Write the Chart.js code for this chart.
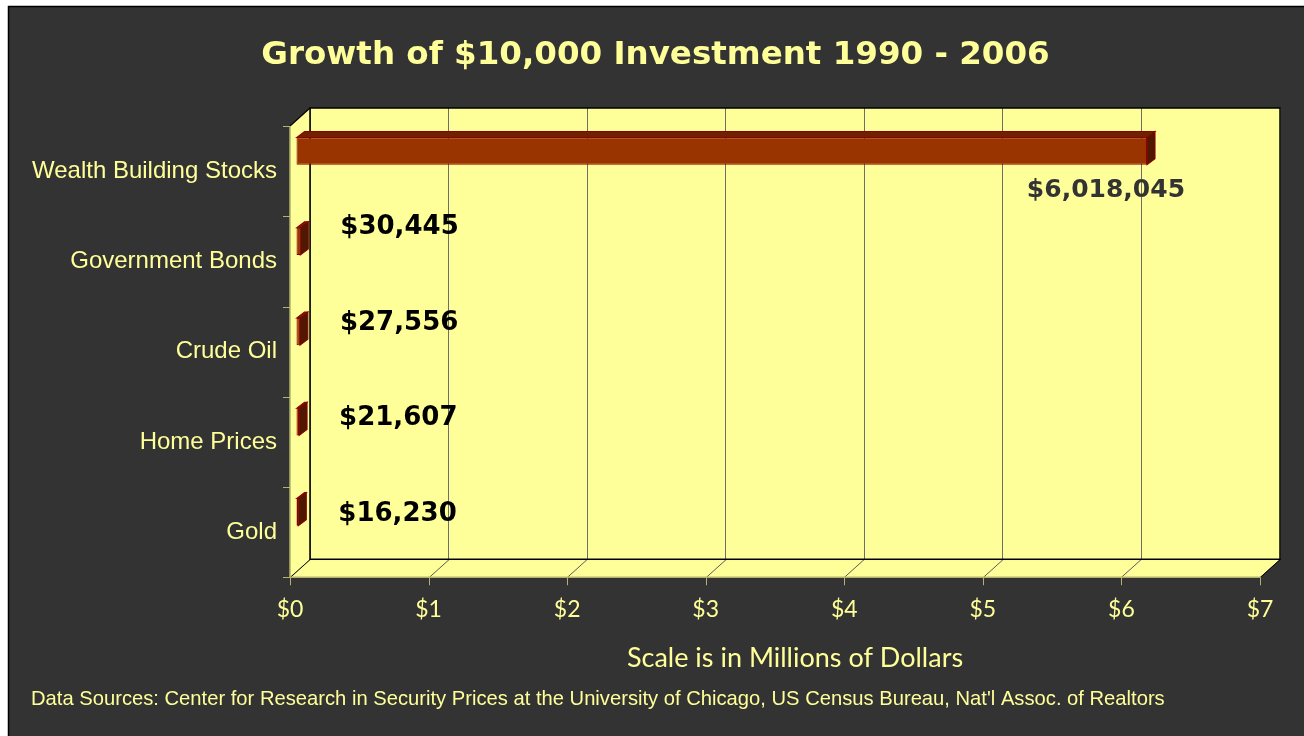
<!DOCTYPE html>
<html><head><meta charset="utf-8">
<script src="https://cdn.jsdelivr.net/npm/chart.js@4.4.1/dist/chart.umd.min.js"></script>
<style>html,body{margin:0;padding:0;background:#fff;overflow:hidden}#wrap{position:absolute;left:0;top:0;width:1304px;height:736px}</style>
</head><body><div id="wrap"><canvas id="c" width="1304" height="736"></canvas></div>
<script>
const categories = ['Wealth Building Stocks', 'Government Bonds', 'Crude Oil', 'Home Prices', 'Gold'];
const finalValuesUSD = [6018045, 30445, 27556, 21607, 16230];
const valuesMillions = finalValuesUSD.map(v => v / 1e6);
const xTickLabels = ['$0', '$1', '$2', '$3', '$4', '$5', '$6', '$7'];
const chartTitle = 'Growth of $10,000 Investment 1990 - 2006';
const xAxisTitle = 'Scale is in Millions of Dollars';
const footnote = "Data Sources: Center for Research in Security Prices at the University of Chicago, US Census Bureau, Nat'l Assoc. of Realtors";

const YELLOW = '#FFFF99';
const DEP_X = 20, DEP_Y = 18;      // wall depth (3D offset)
const BAR_K = 1.0205, BAR_X0 = 296, BAR_DY = -2; // bar perspective projection
const FACE_DX = 8, FACE_DY = -6;   // bar depth

const threeD = {
  id: 'threeD',
  beforeDraw(chart) {
    const {ctx, chartArea: a} = chart;
    ctx.save();
    ctx.fillStyle = '#ffffff';
    ctx.fillRect(0, 0, chart.width, chart.height);
    ctx.fillStyle = '#333333';
    ctx.fillRect(8, 6, chart.width - 8, chart.height - 6);
    ctx.strokeStyle = '#000';
    ctx.lineWidth = 1.5;
    ctx.beginPath(); ctx.moveTo(8.5, chart.height); ctx.lineTo(8.5, 6.5); ctx.lineTo(chart.width, 6.5); ctx.stroke();
    ctx.fillStyle = YELLOW;
    ctx.fillRect(a.left, a.top, a.width, a.height);
    ctx.beginPath();
    ctx.moveTo(a.left - DEP_X, a.top + DEP_Y); ctx.lineTo(a.left, a.top);
    ctx.lineTo(a.left, a.bottom); ctx.lineTo(a.left - DEP_X, a.bottom + DEP_Y); ctx.closePath(); ctx.fill();
    ctx.beginPath();
    ctx.moveTo(a.left, a.bottom); ctx.lineTo(a.right, a.bottom);
    ctx.lineTo(a.right - DEP_X, a.bottom + DEP_Y); ctx.lineTo(a.left - DEP_X, a.bottom + DEP_Y); ctx.closePath(); ctx.fill();
    ctx.restore();
  },
  beforeDatasetsDraw(chart) {
    const {ctx, chartArea: a, scales: {x: xs, y: ys}} = chart;
    ctx.save();
    ctx.lineWidth = 1;
    // floor diagonals
    xTickLabels.forEach((_, v) => {
      const px = Math.round(xs.getPixelForValue(v)) + 0.5;
      ctx.strokeStyle = (v === 0 || v === xTickLabels.length - 1) ? '#000' : '#5a5a5a';
      ctx.beginPath(); ctx.moveTo(px, a.bottom); ctx.lineTo(px - DEP_X, a.bottom + DEP_Y); ctx.stroke();
    });
    // back wall border
    ctx.strokeStyle = '#000'; ctx.lineWidth = 1.5;
    ctx.strokeRect(a.left, a.top, a.width, a.height);
    ctx.lineWidth = 1.2;
    ctx.beginPath(); ctx.moveTo(a.left, a.top); ctx.lineTo(a.left - DEP_X, a.top + DEP_Y); ctx.stroke();
    // front edges
    ctx.strokeStyle = '#b3b36b'; ctx.lineWidth = 1.5;
    ctx.beginPath();
    ctx.moveTo(a.left - DEP_X, a.top + DEP_Y); ctx.lineTo(a.left - DEP_X, a.bottom + DEP_Y);
    ctx.lineTo(a.right - DEP_X, a.bottom + DEP_Y); ctx.stroke();
    // tick marks
    ctx.lineWidth = 1;
    for (let i = 0; i <= categories.length; i++) {
      const py = Math.round(ys.getPixelForValue(i - 0.5) + DEP_Y) + 0.5;
      ctx.beginPath(); ctx.moveTo(a.left - DEP_X, py); ctx.lineTo(a.left - DEP_X - 7, py); ctx.stroke();
    }
    xTickLabels.forEach((_, v) => {
      const px = Math.round(xs.getPixelForValue(v) - DEP_X) + 0.5;
      ctx.beginPath(); ctx.moveTo(px, a.bottom + DEP_Y); ctx.lineTo(px, a.bottom + DEP_Y + 8); ctx.stroke();
    });
    ctx.restore();
    // projection for bars (they sit in the middle depth of the 3D box)
    ctx.save();
    ctx.transform(BAR_K, 0, 0, 1, BAR_X0 - BAR_K * a.left, BAR_DY);
  },
  afterDatasetsDraw(chart) {
    const {ctx, chartArea: a} = chart;
    const meta = chart.getDatasetMeta(0);
    meta.data.forEach(el => {
      const {x, y, base, height} = el.getProps(['x', 'y', 'base', 'height'], true);
      const top = y - height / 2, bot = y + height / 2;
      const dx = FACE_DX / BAR_K;
      ctx.lineWidth = 1; ctx.strokeStyle = '#8b0000';
      ctx.fillStyle = '#6e2200';
      ctx.beginPath();
      ctx.moveTo(base, top); ctx.lineTo(base + dx, top + FACE_DY); ctx.lineTo(x + dx, top + FACE_DY); ctx.lineTo(x, top); ctx.closePath();
      ctx.fill(); ctx.stroke();
      ctx.fillStyle = '#4f1800';
      ctx.beginPath();
      ctx.moveTo(x, top); ctx.lineTo(x + dx, top + FACE_DY); ctx.lineTo(x + dx, bot + FACE_DY); ctx.lineTo(x, bot); ctx.closePath();
      ctx.fill(); ctx.stroke();
    });
    ctx.restore();
    // data labels
    const midY = (a.top + a.bottom) / 2 + 36;
    ctx.save();
    ctx.textBaseline = 'middle';
    meta.data.forEach((el, i) => {
      const {x, y} = el.getProps(['x', 'y'], true);
      const endX = BAR_X0 + BAR_K * (x - a.left);
      const cy = y + BAR_DY;
      const txt = '$' + finalValuesUSD[i].toLocaleString('en-US');
      if (valuesMillions[i] > 1) {
        ctx.font = 'bold 25px "DejaVu Sans"';
        ctx.fillStyle = '#333333';
        ctx.textAlign = 'right';
        ctx.fillText(txt, endX + 38, cy + 39);
      } else {
        ctx.font = 'bold 26px "DejaVu Sans"';
        ctx.fillStyle = '#000000';
        ctx.textAlign = 'left';
        ctx.fillText(txt, endX + 40, cy - 6.5 + (cy - midY) * 0.062);
      }
    });
    ctx.restore();
  }
};

new Chart(document.getElementById('c'), {
  type: 'bar',
  data: {
    labels: categories,
    datasets: [{
      data: valuesMillions,
      backgroundColor: '#993300',
      borderColor: '#8b0000',
      borderWidth: 1,
      borderSkipped: false,
      categoryPercentage: 1,
      barPercentage: 0.3,
      clip: false
    }]
  },
  options: {
    responsive: false,
    animation: false,
    devicePixelRatio: 1,
    indexAxis: 'y',
    layout: {padding: {left: 31, right: 24, top: 0, bottom: 0}},
    plugins: {
      legend: {display: false},
      tooltip: {enabled: false},
      title: {
        display: true, text: chartTitle, color: YELLOW,
        font: {family: 'DejaVu Sans', weight: 'bold', size: 32.5, lineHeight: 1.2},
        padding: {top: 36, bottom: 33}
      },
      subtitle: {
        display: true, position: 'bottom', align: 'start', text: footnote, color: YELLOW,
        font: {family: 'Liberation Sans', size: 20.2, lineHeight: 1.2},
        padding: {top: 8, bottom: 24.4}
      }
    },
    scales: {
      x: {
        type: 'linear', min: 0, max: 7, position: 'bottom',
        ticks: {
          stepSize: 1, color: YELLOW, font: {family: 'Lato', size: 23},
          padding: 2, labelOffset: -DEP_X,
          callback: (v, i) => xTickLabels[i]
        },
        grid: {color: '#6e6e6e', lineWidth: 1, drawTicks: true, tickLength: 35, tickColor: 'rgba(0,0,0,0)'},
        border: {display: false},
        title: {
          display: true, text: xAxisTitle, color: YELLOW,
          font: {family: 'Lato', size: 27, lineHeight: 1.2},
          padding: {top: 0, bottom: 5}
        },
        afterFit(s) { s.height = 120.1; }
      },
      y: {
        type: 'category', position: 'left',
        ticks: {color: YELLOW, font: {family: 'Liberation Sans', size: 24}, padding: 33, labelOffset: DEP_Y},
        grid: {display: false, drawTicks: false},
        border: {display: false},
        afterFit(s) { s.width = 279; }
      }
    }
  },
  plugins: [threeD]
});
</script>
</body></html>
